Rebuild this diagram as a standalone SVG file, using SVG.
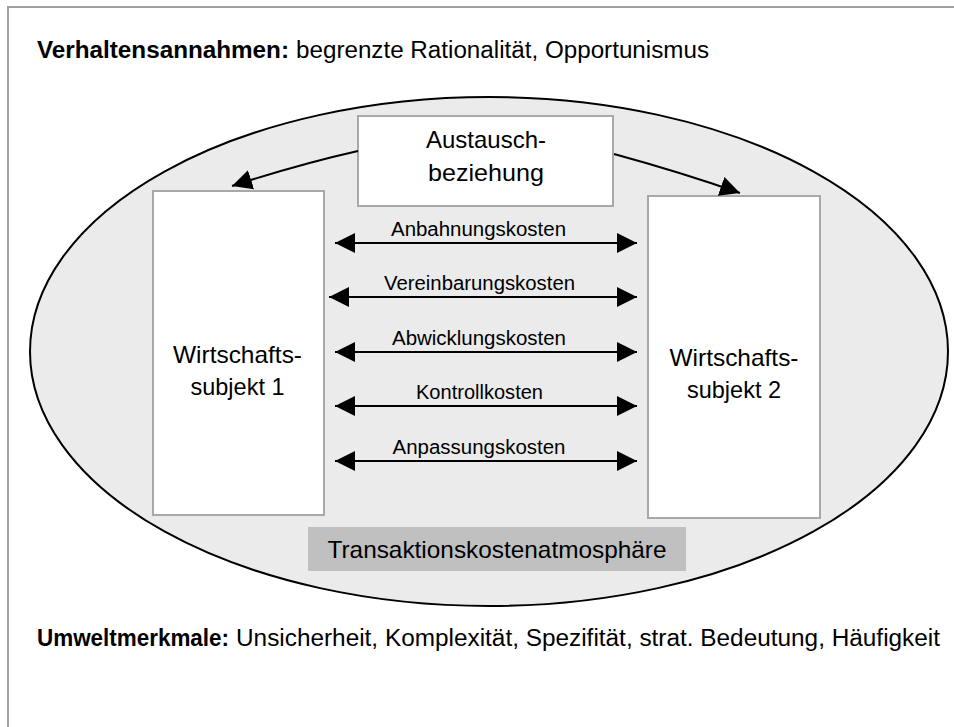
<svg xmlns="http://www.w3.org/2000/svg" width="954" height="727" viewBox="0 0 954 727">
<defs>
<style>
text{font-family:"Liberation Sans",Arial,sans-serif;fill:#000}
.frame{stroke:#a0a0a0;stroke-width:2;fill:none}
.box{fill:#fff;stroke:#a8a8a8;stroke-width:2}
.lbl{font-size:24px;text-anchor:middle}
.cost{font-size:20px;text-anchor:middle}
.head{font-size:23px}
.b{font-weight:bold}
.conn{stroke:#000;stroke-width:2;fill:none}
</style>
<marker id="ah" viewBox="0 0 20 20" refX="20" refY="10" markerWidth="20" markerHeight="20" markerUnits="userSpaceOnUse" orient="auto-start-reverse">
<path d="M0,0 L20,10 L0,20 Z" fill="#000"/>
</marker>
</defs>
<rect width="954" height="727" fill="#fff"/>
<path class="frame" d="M8,727 V7 H954"/>
<text class="head b" x="37" y="58" textLength="252" lengthAdjust="spacingAndGlyphs">Verhaltensannahmen:</text>
<text class="head" x="296" y="58" textLength="413" lengthAdjust="spacingAndGlyphs">begrenzte Rationalität, Opportunismus</text>
<g id="atmosphere">
<ellipse cx="489" cy="351.5" rx="459" ry="254.5" fill="#ebebeb" stroke="#000" stroke-width="2"/>
</g>
<g id="austausch">
<rect class="box" x="358" y="116" width="255" height="90"/>
<text class="lbl" x="486" y="148" textLength="120" lengthAdjust="spacingAndGlyphs">Austausch-</text>
<text class="lbl" x="486" y="181" textLength="116" lengthAdjust="spacingAndGlyphs">beziehung</text>
</g>
<g id="subjekt1">
<rect class="box" x="153" y="191" width="171" height="324"/>
<text class="lbl" x="237.5" y="363" textLength="129" lengthAdjust="spacingAndGlyphs">Wirtschafts-</text>
<text class="lbl" x="237.5" y="395" textLength="94" lengthAdjust="spacingAndGlyphs">subjekt 1</text>
</g>
<g id="subjekt2">
<rect class="box" x="648" y="196" width="172" height="322"/>
<text class="lbl" x="734" y="366" textLength="129" lengthAdjust="spacingAndGlyphs">Wirtschafts-</text>
<text class="lbl" x="734" y="398" textLength="94" lengthAdjust="spacingAndGlyphs">subjekt 2</text>
</g>
<g id="tka">
<rect x="308" y="527" width="378" height="44" fill="#c0c0c0"/>
<text class="lbl" x="497" y="558" textLength="339" lengthAdjust="spacingAndGlyphs">Transaktionskostenatmosphäre</text>
</g>
<g id="connectors">
<path class="conn" d="M358,151 Q300,164 232,186" marker-end="url(#ah)"/>
<path class="conn" d="M614,154 Q680,172 740,193" marker-end="url(#ah)"/>
<line class="conn" x1="335" y1="243" x2="637" y2="243" marker-start="url(#ah)" marker-end="url(#ah)"/>
<line class="conn" x1="329" y1="297" x2="637" y2="297" marker-start="url(#ah)" marker-end="url(#ah)"/>
<line class="conn" x1="335" y1="352" x2="637" y2="352" marker-start="url(#ah)" marker-end="url(#ah)"/>
<line class="conn" x1="335" y1="406" x2="637" y2="406" marker-start="url(#ah)" marker-end="url(#ah)"/>
<line class="conn" x1="335" y1="461" x2="637" y2="461" marker-start="url(#ah)" marker-end="url(#ah)"/>
</g>
<g id="labels">
<text class="cost" x="478.5" y="236" textLength="175" lengthAdjust="spacingAndGlyphs">Anbahnungskosten</text>
<text class="cost" x="479.5" y="290" textLength="191" lengthAdjust="spacingAndGlyphs">Vereinbarungskosten</text>
<text class="cost" x="479" y="345" textLength="174" lengthAdjust="spacingAndGlyphs">Abwicklungskosten</text>
<text class="cost" x="479.5" y="399" textLength="127" lengthAdjust="spacingAndGlyphs">Kontrollkosten</text>
<text class="cost" x="479" y="454" textLength="173" lengthAdjust="spacingAndGlyphs">Anpassungskosten</text>
</g>
<text class="head b" x="37" y="646" textLength="192" lengthAdjust="spacingAndGlyphs">Umweltmerkmale:</text>
<text class="head" x="236" y="646" textLength="704" lengthAdjust="spacingAndGlyphs">Unsicherheit, Komplexität, Spezifität, strat. Bedeutung, Häufigkeit</text>
</svg>
